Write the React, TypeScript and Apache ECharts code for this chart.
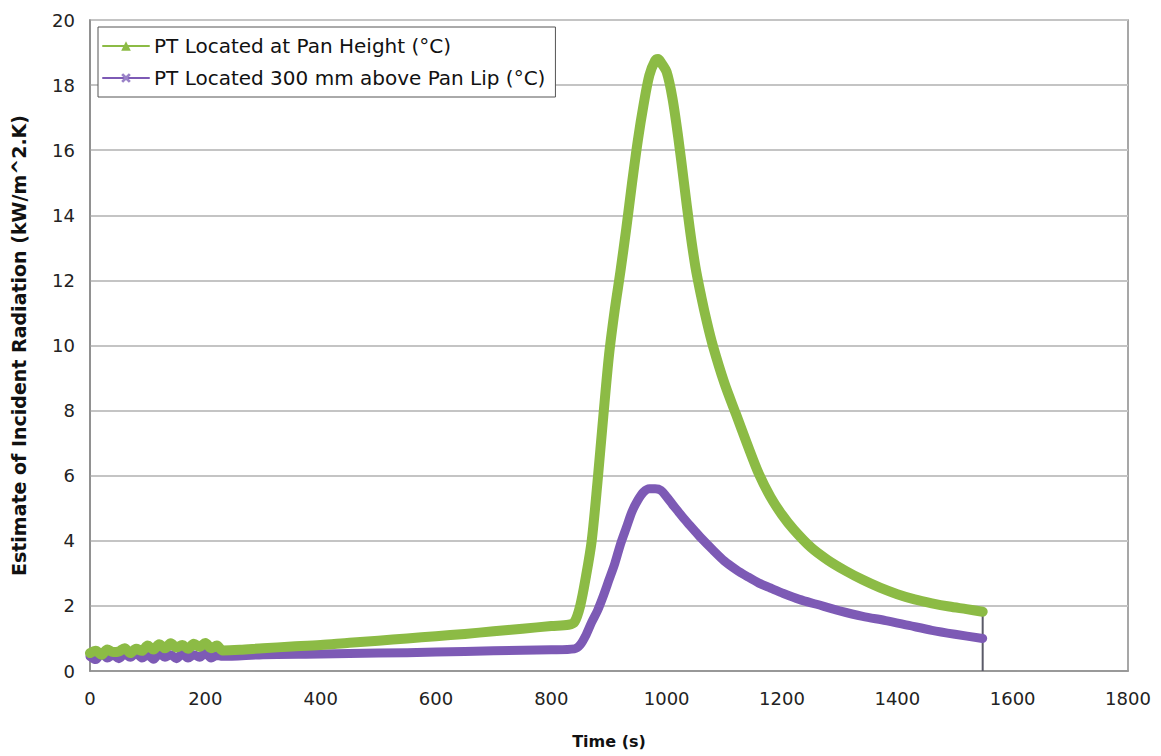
import React, { useEffect, useRef } from "react";
import * as echarts from "echarts";

const seriesNames = ["PT Located at Pan Height (°C)", "PT Located 300 mm above Pan Lip (°C)"];

const greenTime = [0, 10, 20, 30, 40, 50, 60, 70, 80, 90, 100, 110, 120, 130, 140, 150, 160, 170, 180, 190, 200, 210, 220, 230, 260, 300, 350, 400, 450, 500, 550, 600, 650, 700, 750, 800, 830, 840, 850, 860, 870, 880, 890, 900, 910, 920, 930, 940, 950, 960, 970, 980, 985, 990, 1000, 1010, 1020, 1030, 1040, 1050, 1060, 1070, 1080, 1100, 1120, 1140, 1160, 1180, 1200, 1220, 1250, 1280, 1310, 1340, 1370, 1400, 1430, 1460, 1490, 1520, 1548];
const greenValue = [0.55, 0.62, 0.5, 0.66, 0.58, 0.6, 0.7, 0.55, 0.68, 0.62, 0.78, 0.66, 0.82, 0.7, 0.85, 0.72, 0.8, 0.68, 0.84, 0.74, 0.86, 0.7, 0.78, 0.63, 0.65, 0.7, 0.75, 0.8, 0.87, 0.93, 1.0, 1.07, 1.14, 1.22, 1.3, 1.38, 1.42, 1.5, 2.0, 2.9, 4.0, 5.8, 7.8, 9.7, 11.1, 12.3, 13.6, 15.0, 16.3, 17.4, 18.3, 18.75, 18.8, 18.7, 18.4, 17.6, 16.4, 15.0, 13.6, 12.4, 11.5, 10.7, 10.0, 8.85, 7.9, 6.95, 6.05, 5.35, 4.8, 4.35, 3.8, 3.4, 3.08, 2.8, 2.56, 2.36, 2.2, 2.08, 1.98, 1.9, 1.82];

const purpleTime = [0, 10, 20, 30, 40, 50, 60, 70, 80, 90, 100, 110, 120, 130, 140, 150, 160, 170, 180, 190, 200, 210, 220, 230, 300, 400, 500, 600, 700, 800, 840, 850, 860, 870, 880, 890, 900, 910, 920, 930, 940, 950, 960, 970, 980, 990, 1000, 1010, 1020, 1030, 1040, 1050, 1060, 1080, 1100, 1120, 1140, 1160, 1180, 1200, 1230, 1260, 1300, 1340, 1380, 1420, 1460, 1500, 1548];
const purpleValue = [0.45, 0.35, 0.55, 0.4, 0.5, 0.38, 0.52, 0.42, 0.55, 0.4, 0.5, 0.36, 0.54, 0.42, 0.5, 0.38, 0.53, 0.4, 0.5, 0.42, 0.55, 0.4, 0.48, 0.45, 0.5, 0.52, 0.55, 0.58, 0.62, 0.65, 0.68, 0.8, 1.1, 1.5, 1.85, 2.3, 2.8, 3.3, 3.9, 4.4, 4.9, 5.25, 5.5, 5.6, 5.6, 5.55, 5.35, 5.12, 4.9, 4.68, 4.48, 4.28, 4.08, 3.72, 3.38, 3.12, 2.9, 2.7, 2.55, 2.4, 2.2, 2.05, 1.85, 1.68, 1.55, 1.4, 1.25, 1.13, 1.0];

const dropTime = [1548, 1548];
const dropValue = [1.95, 0];

const xTicks = { min: 0, max: 1800, interval: 200 };
const yTicks = { min: 0, max: 20, interval: 2 };

const zip = (xs: number[], ys: number[]) => xs.map((x, i) => [x, ys[i]]);

export default function App() {
  const ref = useRef<HTMLDivElement>(null);
  useEffect(() => {
    if (!ref.current) return;
    const chart = echarts.init(ref.current, null, { renderer: "svg" });
    const font = "'DejaVu Sans', 'Liberation Sans', Arial, sans-serif";
    chart.setOption({
      animation: false,
      backgroundColor: "#ffffff",
      textStyle: { fontFamily: font },
      grid: {
        left: 90,
        right: 33,
        top: 20,
        bottom: 85,
        show: true,
        borderColor: "#8a8a8a",
        borderWidth: 1.5,
        backgroundColor: "transparent",
      },
      legend: {
        left: 98,
        top: 27,
        orient: "vertical",
        backgroundColor: "#ffffff",
        borderColor: "#555555",
        borderWidth: 1,
        borderRadius: 0,
        padding: [9, 10, 9, 4],
        itemGap: 12,
        itemWidth: 46,
        itemHeight: 12,
        textStyle: { fontSize: 20, color: "#111111", fontFamily: font },
        data: seriesNames,
      },
      xAxis: {
        type: "value",
        min: xTicks.min,
        max: xTicks.max,
        interval: xTicks.interval,
        name: "Time (s)",
        nameLocation: "middle",
        nameGap: 62,
        nameTextStyle: { fontSize: 16, fontWeight: "bold", color: "#111111", fontFamily: font },
        axisLine: { show: true, lineStyle: { color: "#8a8a8a", width: 1.5 } },
        axisTick: { show: false },
        axisLabel: { fontSize: 18, color: "#222222", margin: 18, formatter: (v: number) => String(v) },
        splitLine: { show: false },
      },
      yAxis: {
        type: "value",
        min: yTicks.min,
        max: yTicks.max,
        interval: yTicks.interval,
        name: "Estimate of Incident Radiation (kW/m^2.K)",
        nameLocation: "middle",
        nameGap: 62,
        nameTextStyle: { fontSize: 19, fontWeight: "bold", color: "#111111", fontFamily: font },
        axisLine: { show: true, lineStyle: { color: "#8a8a8a", width: 1.5 } },
        axisTick: { show: false },
        axisLabel: { fontSize: 18, color: "#222222", margin: 15 },
        splitLine: { show: true, lineStyle: { color: "#c4c4c4", width: 2 } },
      },
      series: [
        {
          name: "drop",
          type: "line",
          data: zip(dropTime, dropValue),
          showSymbol: false,
          lineStyle: { color: "#5a5a68", width: 2 },
          z: 1,
        },
        {
          name: seriesNames[1],
          type: "line",
          data: zip(purpleTime, purpleValue),
          symbol: "path://M0,2 L2,0 L5,3 L8,0 L10,2 L7,5 L10,8 L8,10 L5,7 L2,10 L0,8 L3,5 Z",
          symbolSize: 10,
          showSymbol: false,
          smooth: 0.3,
          itemStyle: { color: "#9a82c8" },
          lineStyle: { color: "#7d5ab5", width: 9, join: "round", cap: "round" },
          z: 2,
        },
        {
          name: seriesNames[0],
          type: "line",
          data: zip(greenTime, greenValue),
          symbol: "triangle",
          symbolSize: 10,
          showSymbol: false,
          smooth: 0.3,
          itemStyle: { color: "#8cbb45" },
          lineStyle: { color: "#8cbb45", width: 10, join: "round", cap: "round" },
          z: 3,
        },
      ],
    });
    return () => chart.dispose();
  }, []);
  return (
    <div
      ref={ref}
      style={{ position: "fixed", left: 0, top: 0, width: 1161, height: 756 }}
    />
  );
}
